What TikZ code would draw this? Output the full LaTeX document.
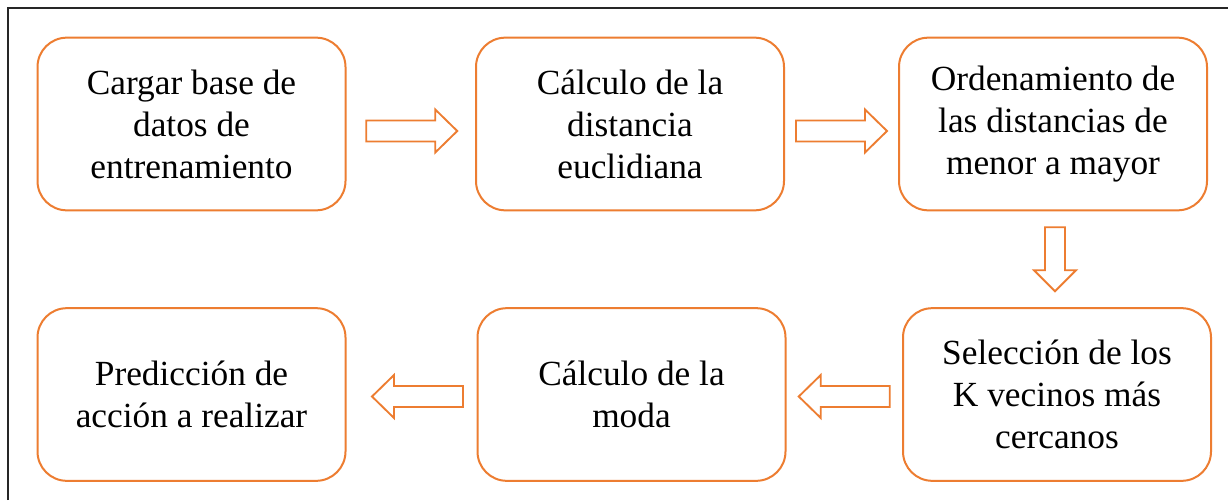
\documentclass[tikz,border=0pt]{standalone}
\usepackage{fontspec}
\setmainfont{Liberation Serif}
\usetikzlibrary{calc}
\definecolor{boxorange}{HTML}{ED7D31}
\begin{document}
\begin{tikzpicture}[x=0.75pt,y=-0.75pt,
  stepbox/.style={draw=boxorange,line width=1.5pt,rounded corners=22pt,
    minimum width=231pt,minimum height=129.5pt,align=center,
    font=\fontsize{26.5pt}{31.5pt}\selectfont,inner sep=0pt},
  blockarrow/.style={draw=boxorange,line width=1.4pt,fill=white,line join=miter},
  pics/rarrow/.style={code={\draw[blockarrow] (-45.5,-10.5) -- (23.5,-10.5) -- (23.5,-21.5) -- (45.5,0) -- (23.5,21.5) -- (23.5,10.5) -- (-45.5,10.5) -- cycle;}},
  pics/larrow/.style={code={\draw[blockarrow] (45.5,-10.5) -- (-23.5,-10.5) -- (-23.5,-21.5) -- (-45.5,0) -- (-23.5,21.5) -- (-23.5,10.5) -- (45.5,10.5) -- cycle;}},
  pics/darrow/.style={code={\draw[blockarrow] (-10,-32) -- (10,-32) -- (10,11) -- (21,11) -- (0,32) -- (-21,11) -- (-10,11) -- cycle;}}
]
\useasboundingbox (0,0) rectangle (1228,500);
\fill[white] (0,0) rectangle (1228,500);
\draw[line width=1.5pt,black!85] (8,500) -- (8,8) -- (1228,8);

\node[stepbox] (b1) at (191.5,124) {Cargar base de\\datos de\\entrenamiento};
\node[stepbox] (b2) at (630,124) {Cálculo de la\\distancia\\euclidiana};
\node[stepbox] (b3) at (1053,124) {Ordenamiento de\\las distancias de\\menor a mayor};
\node[stepbox] (b6) at (1057,394.5) {Selección de los\\K vecinos más\\cercanos};
\node[stepbox] (b5) at (631.5,394.5) {Cálculo de la\\moda};
\node[stepbox] (b4) at (191.5,394.5) {Predicción de\\acción a realizar};

\coordinate (a1) at ($(b1.east)!0.5!(b2.west)+(1,7)$);
\coordinate (a2) at ($(b2.east)!0.5!(b3.west)+(0,7)$);
\coordinate (a3) at ($(b3.south)!0.5!(b6.north)$);
\coordinate (a4) at ($(b5.east)!0.5!(b6.west)+(0,2)$);
\coordinate (a5) at ($(b4.east)!0.5!(b5.west)+(6,2)$);

\pic at (a1) {rarrow};
\pic at (a2) {rarrow};
\pic at (a3) {darrow};
\pic at (a4) {larrow};
\pic at (a5) {larrow};
\end{tikzpicture}
\end{document}
